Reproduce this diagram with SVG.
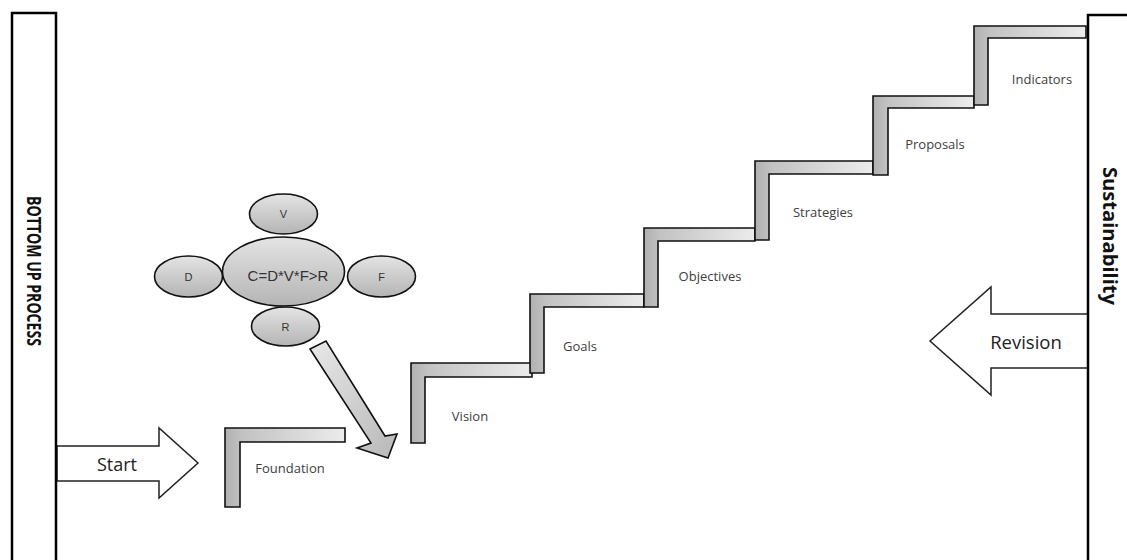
<svg xmlns="http://www.w3.org/2000/svg" width="1127" height="560" viewBox="0 0 1127 560">
<defs>
<linearGradient id="stepG" x1="0" y1="0" x2="1" y2="0">
<stop offset="0" stop-color="#b0b0b0"/>
<stop offset="0.14" stop-color="#c2c2c2"/>
<stop offset="1" stop-color="#ececec"/>
</linearGradient>
<linearGradient id="ellG" x1="0" y1="0" x2="0" y2="1">
<stop offset="0" stop-color="#e4e4e4"/>
<stop offset="1" stop-color="#b4b4b4"/>
</linearGradient>
<linearGradient id="arrG" x1="0" y1="0" x2="1" y2="1">
<stop offset="0" stop-color="#e8e8e8"/>
<stop offset="1" stop-color="#b8b8b8"/>
</linearGradient>
<style>
.step{fill:url(#stepG);stroke:#111;stroke-width:1.6;stroke-linejoin:miter}
.lbl{font-family:"Open Sans","Liberation Sans",sans-serif;font-size:13px;fill:#404040;text-anchor:middle;dominant-baseline:central}
.ell{fill:url(#ellG);stroke:#111;stroke-width:1.6}
.etx{font-family:"Liberation Sans",Arial,sans-serif;fill:#333;text-anchor:middle;dominant-baseline:central}
.blk{fill:#fff;stroke:#222;stroke-width:1.5}
.big{font-family:"Open Sans","Liberation Sans",sans-serif;fill:#222;text-anchor:middle;dominant-baseline:central}
.bar{fill:#fff;stroke:#000;stroke-width:2.5}
.side{font-family:"Open Sans","Liberation Sans",sans-serif;font-weight:bold;fill:#111;text-anchor:middle;dominant-baseline:central}
</style>
</defs>
<rect width="1127" height="560" fill="#fff"/>

<g id="start">
<polygon class="blk" points="57,446 159,446 159,428 198,463 159,498 159,481 57,481"/>
<text class="big" x="117" y="464" font-size="18">Start</text>
</g>
<g id="revision">
<polygon class="blk" points="1088,314 991,314 991,287 930,341 991,395 991,368 1088,368"/>
<text class="big" x="1026" y="341" font-size="18.5">Revision</text>
</g>

<g id="bottom-up-process">
<rect class="bar" x="12" y="13" width="44" height="560"/>
<text class="side" font-size="19" textLength="150" lengthAdjust="spacingAndGlyphs" transform="translate(34,271) rotate(90)">BOTTOM UP PROCESS</text>
</g>
<g id="sustainability">
<rect class="bar" x="1088" y="15" width="50" height="560"/>
<text class="side" font-size="20" textLength="138" lengthAdjust="spacingAndGlyphs" transform="translate(1110,236) rotate(90)">Sustainability</text>
</g>

<g id="cluster">
<g id="node-V"><ellipse class="ell" cx="283.5" cy="214" rx="34" ry="20"/><text class="etx" x="283.5" y="214" font-size="11">V</text></g>
<g id="node-D"><ellipse class="ell" cx="188.5" cy="276.5" rx="34" ry="20.5"/><text class="etx" x="188.5" y="276.5" font-size="11">D</text></g>
<g id="node-F"><ellipse class="ell" cx="381.5" cy="276.5" rx="34" ry="20.5"/><text class="etx" x="381.5" y="276.5" font-size="11">F</text></g>
<g id="node-R"><ellipse class="ell" cx="285.5" cy="326.5" rx="34" ry="19.5"/><text class="etx" x="285.5" y="326.5" font-size="11">R</text></g>
<g id="node-C"><ellipse class="ell" cx="283.5" cy="271.5" rx="61" ry="34.5"/><text class="etx" x="288" y="275" font-size="15">C=D*V*F&gt;R</text></g>
</g>

<g id="connectors">
<polygon points="310,349 326,341 385,436 397,434 388,458 357,448 371,443" fill="url(#arrG)" stroke="#111" stroke-width="1.6" stroke-linejoin="miter"/>
</g>

<g id="step-foundation">
<path class="step" d="M225,428 H345 V442 H240 V507 H225 Z"/>
<text class="lbl" x="290" y="468">Foundation</text>
</g>
<g id="step-vision">
<path class="step" d="M411,363 H532 V377 H425 V443 H411 Z"/>
<text class="lbl" x="470" y="416">Vision</text>
</g>
<g id="step-goals">
<path class="step" d="M530,294 H644 V307 H544 V373 H530 Z"/>
<text class="lbl" x="580" y="346">Goals</text>
</g>
<g id="step-objectives">
<path class="step" d="M644,228 H755 V241 H658 V307 H644 Z"/>
<text class="lbl" x="710" y="276">Objectives</text>
</g>
<g id="step-strategies">
<path class="step" d="M755,161 H873 V174 H769 V240 H755 Z"/>
<text class="lbl" x="823" y="212">Strategies</text>
</g>
<g id="step-proposals">
<path class="step" d="M873,96 H974 V108 H888 V175 H873 Z"/>
<text class="lbl" x="935" y="144">Proposals</text>
</g>
<g id="step-indicators">
<path class="step" d="M974,26 H1086 V38 H988 V105 H974 Z"/>
<text class="lbl" x="1042" y="79">Indicators</text>
</g>
</svg>
